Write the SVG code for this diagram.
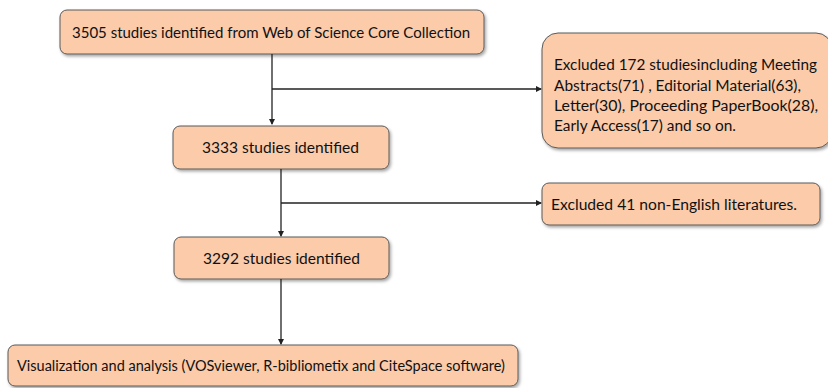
<svg xmlns="http://www.w3.org/2000/svg" width="828" height="388" viewBox="0 0 828 388">
<defs>
<filter id="sh" x="-10%" y="-20%" width="130%" height="160%">
<feDropShadow dx="1.5" dy="2" stdDeviation="1.5" flood-color="#000" flood-opacity="0.35"/>
</filter>
<marker id="ah" markerWidth="6" markerHeight="6" refX="5" refY="3" orient="auto" markerUnits="userSpaceOnUse">
<path d="M0,0 L6,3 L0,6 Z" fill="#222"/>
</marker>
</defs>
<style>
.box{fill:#FBCBAA;stroke:#5a5a5a;stroke-width:1;filter:url(#sh)}
.t{font-family:Lato,"Open Sans","Liberation Sans",sans-serif;font-size:15.5px;fill:#111}
.c{stroke:#222;stroke-width:1.3;fill:none}
</style>
<rect width="828" height="388" fill="#fff"/>
<g id="n1"><rect class="box" x="60" y="10" width="424" height="44" rx="7"/><text class="t" x="72" y="38" textLength="398" lengthAdjust="spacingAndGlyphs">3505 studies identified from Web of Science Core Collection</text></g>
<g id="n2"><rect class="box" x="542" y="33" width="290" height="115" rx="16"/>
<text class="t" x="554" y="70" textLength="263" lengthAdjust="spacingAndGlyphs">Excluded 172 studiesincluding Meeting</text>
<text class="t" x="554" y="91" textLength="247" lengthAdjust="spacingAndGlyphs">Abstracts(71) , Editorial Material(63),</text>
<text class="t" x="554" y="111" textLength="264" lengthAdjust="spacingAndGlyphs">Letter(30), Proceeding PaperBook(28),</text>
<text class="t" x="554" y="131" textLength="182" lengthAdjust="spacingAndGlyphs">Early Access(17) and so on.</text></g>
<g id="n3"><rect class="box" x="173" y="126" width="216" height="43" rx="7"/><text class="t" x="202" y="153" textLength="157" lengthAdjust="spacingAndGlyphs">3333 studies identified</text></g>
<g id="n4"><rect class="box" x="542" y="183" width="278" height="42" rx="7"/><text class="t" x="551" y="210" textLength="246" lengthAdjust="spacingAndGlyphs">Excluded 41 non-English literatures.</text></g>
<g id="n5"><rect class="box" x="174" y="237" width="215" height="42" rx="7"/><text class="t" x="203" y="264" textLength="157" lengthAdjust="spacingAndGlyphs">3292 studies identified</text></g>
<g id="n6"><rect class="box" x="8" y="345" width="510" height="41" rx="7"/><text class="t" x="17" y="371" textLength="488" lengthAdjust="spacingAndGlyphs">Visualization and analysis (VOSviewer, R-bibliometix and CiteSpace software)</text></g>
<g id="connectors">
<path class="c" d="M272,54 V124" marker-end="url(#ah)"/>
<path class="c" d="M272,89 H541" marker-end="url(#ah)"/>
<path class="c" d="M281,169 V236" marker-end="url(#ah)"/>
<path class="c" d="M281,203 H541" marker-end="url(#ah)"/>
<path class="c" d="M281,279 V344" marker-end="url(#ah)"/>
</g>
</svg>
